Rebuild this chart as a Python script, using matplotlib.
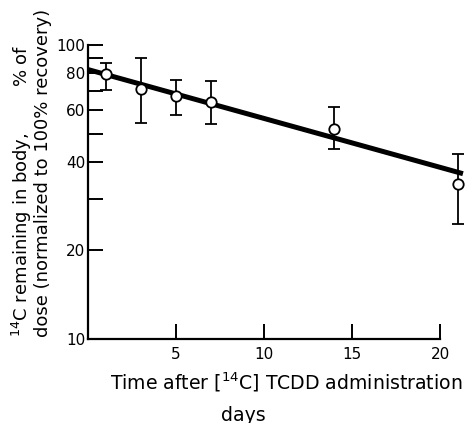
import numpy as np
import matplotlib.pyplot as plt
from matplotlib.ticker import FixedLocator, NullFormatter

# measured points (days, % of dose remaining)
days = [1, 3, 5, 7, 14, 21]
remaining = [79.7, 70.7, 67.1, 64.1, 51.7, 33.6]
err_hi = [87.1, 90.1, 76.0, 75.4, 61.4, 42.6]
err_lo = [70.3, 54.4, 57.8, 53.7, 44.3, 24.7]

# fitted line endpoints
fit_x = [0, 21.3]
fit_y = [82.5, 36.5]

y_major = [10, 20, 40, 60, 80, 100]
y_minor = [30, 50, 70, 90]
x_ticks = [5, 10, 15, 20]

plt.rcParams['font.family'] = ['DejaVu Sans']
fig = plt.figure(figsize=(4.76, 4.23), dpi=100)
ax = fig.add_axes([0.185, 0.1986, 0.795, 0.695])

ax.set_yscale('log')
ax.set_xlim(0, 21.5)
ax.set_ylim(10, 100)

ax.plot(fit_x, fit_y, color='black', lw=3.6, solid_capstyle='butt', zorder=2, clip_on=False)

rem = np.array(remaining)
yerr = [rem - np.array(err_lo), np.array(err_hi) - rem]
ax.errorbar(days, remaining, yerr=yerr, fmt='o', color='black', ms=7.5,
            mfc='white', mec='black', mew=1.3, elinewidth=1.3, capsize=4.5,
            capthick=1.3, zorder=3, clip_on=False)

for s in ['top', 'right']:
    ax.spines[s].set_visible(False)
for s in ['left', 'bottom']:
    ax.spines[s].set_linewidth(1.6)
ax.spines['bottom'].set_bounds(0, 20)

ax.yaxis.set_major_locator(FixedLocator(y_major))
ax.yaxis.set_minor_locator(FixedLocator(y_minor))
ax.set_yticklabels([str(v) for v in y_major])
ax.yaxis.set_minor_formatter(NullFormatter())
ax.set_xticks(x_ticks)
ax.set_xticklabels([str(v) for v in x_ticks])

ax.tick_params(axis='both', which='both', direction='in', length=11, width=1.4,
               labelsize=11, pad=2)
ax.tick_params(axis='x', pad=6)

fig.text(286 / 476, 1 - 382 / 423, r'Time after $\left[^{14}\mathrm{C}\right]$ TCDD administration',
         ha='center', va='center', fontsize=13.6)
fig.text(243 / 476, 1 - 415 / 423, 'days', ha='center', va='center', fontsize=13.6)

fig.text(22 / 476, 1 - 337 / 423, r'$^{14}$C remaining in body,        % of',
         rotation=90, ha='center', va='bottom', fontsize=13)
fig.text(43 / 476, 1 - 337 / 423, 'dose (normalized to 100% recovery)',
         rotation=90, ha='center', va='bottom', fontsize=13)

fig.savefig('out.png', dpi=100)
